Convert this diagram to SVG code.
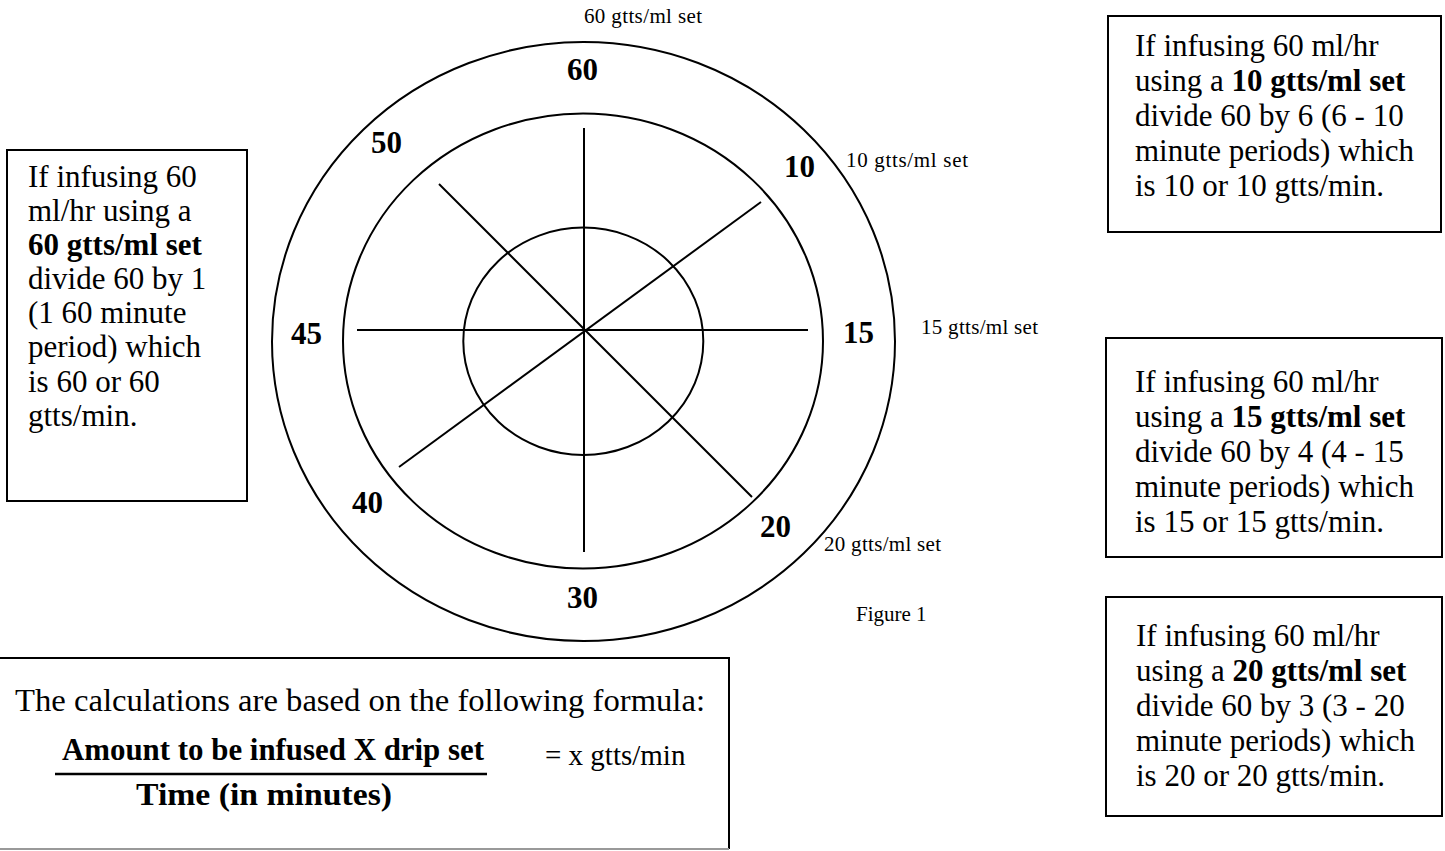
<svg xmlns="http://www.w3.org/2000/svg" width="1445" height="851" viewBox="0 0 1445 851">
<style>
.ln{fill:none;stroke:#000;stroke-width:2}
.box{fill:#fff;stroke:#000;stroke-width:2}
.t{font-family:"Liberation Serif","Times New Roman",serif;fill:#000}
.big{font-size:31px}
.num{font-size:31px;font-weight:bold}
.sm{font-size:21px}
.b{font-weight:bold}
</style>
<rect width="1445" height="851" fill="#fff"/>
<g id="dial">
<ellipse class="ln" cx="583.5" cy="341.5" rx="311.5" ry="299.5"/>
<ellipse class="ln" cx="583" cy="341" rx="240" ry="227.5"/>
<ellipse class="ln" cx="583.3" cy="341.3" rx="120" ry="113.7"/>
</g>
<g id="spokes">
<line class="ln" x1="584" y1="128" x2="584" y2="552"/>
<line class="ln" x1="357" y1="330" x2="808" y2="330"/>
<line class="ln" x1="439" y1="184" x2="752" y2="497"/>
<line class="ln" x1="399" y1="467" x2="761" y2="202"/>
</g>
<g id="dial-numbers" class="t num">
<text x="567" y="80">60</text>
<text x="371" y="153">50</text>
<text x="291" y="344">45</text>
<text x="352" y="513">40</text>
<text x="567" y="608">30</text>
<text x="784" y="177">10</text>
<text x="843" y="343">15</text>
<text x="760" y="537">20</text>
</g>
<g id="set-labels" class="t sm">
<text x="584" y="23" textLength="118" lengthAdjust="spacing">60 gtts/ml set</text>
<text x="846" y="167" textLength="122" lengthAdjust="spacing">10  gtts/ml set</text>
<text x="921" y="334" textLength="117" lengthAdjust="spacing">15 gtts/ml set</text>
<text x="824" y="551" textLength="117" lengthAdjust="spacing">20 gtts/ml set</text>
<text x="856" y="621">Figure 1</text>
</g>
<g id="box-60">
<rect class="box" x="7" y="150" width="240" height="351"/>
<g class="t big">
<text x="28" y="187">If infusing 60</text>
<text x="28" y="221">ml/hr using a</text>
<text x="28" y="255" class="b">60 gtts/ml set</text>
<text x="28" y="289">divide 60 by 1</text>
<text x="28" y="323">(1 60 minute</text>
<text x="28" y="357">period) which</text>
<text x="28" y="392">is 60 or 60</text>
<text x="28" y="426">gtts/min.</text>
</g>
</g>
<g id="box-10">
<rect class="box" x="1108" y="16" width="333" height="216"/>
<g class="t big">
<text x="1135" y="56">If infusing 60 ml/hr</text>
<text x="1135" y="91">using a <tspan class="b">10 gtts/ml set</tspan></text>
<text x="1135" y="126">divide 60 by 6 (6 - 10</text>
<text x="1135" y="161">minute periods) which</text>
<text x="1135" y="196">is 10 or 10 gtts/min.</text>
</g>
</g>
<g id="box-15">
<rect class="box" x="1106" y="338" width="336" height="219"/>
<g class="t big">
<text x="1135" y="392">If infusing 60 ml/hr</text>
<text x="1135" y="427">using a <tspan class="b">15 gtts/ml set</tspan></text>
<text x="1135" y="462">divide 60 by 4 (4 - 15</text>
<text x="1135" y="497">minute periods) which</text>
<text x="1135" y="532">is 15 or 15 gtts/min.</text>
</g>
</g>
<g id="box-20">
<rect class="box" x="1106" y="597" width="336" height="219"/>
<g class="t big">
<text x="1136" y="646">If infusing 60 ml/hr</text>
<text x="1136" y="681">using a <tspan class="b">20 gtts/ml set</tspan></text>
<text x="1136" y="716">divide 60 by 3 (3 - 20</text>
<text x="1136" y="751">minute periods) which</text>
<text x="1136" y="786">is 20 or 20 gtts/min.</text>
</g>
</g>
<g id="formula-box">
<path d="M-2 658 H729 V849" fill="none" stroke="#000" stroke-width="2"/>
<line x1="-2" y1="849" x2="729" y2="849" stroke="#999" stroke-width="2"/>
<g class="t big">
<text x="15" y="711" textLength="690" lengthAdjust="spacingAndGlyphs">The calculations are based on the following formula:</text>
<text x="62" y="760" textLength="422" lengthAdjust="spacingAndGlyphs" class="b">Amount to be infused X drip set</text>
<text x="136" y="805" textLength="256" lengthAdjust="spacingAndGlyphs" class="b">Time (in minutes)</text>
<text x="545" y="765" style="font-size:29px">=  x gtts/min</text>
</g>
<line x1="55" y1="774" x2="487" y2="774" stroke="#000" stroke-width="2.5"/>
</g>
</svg>
